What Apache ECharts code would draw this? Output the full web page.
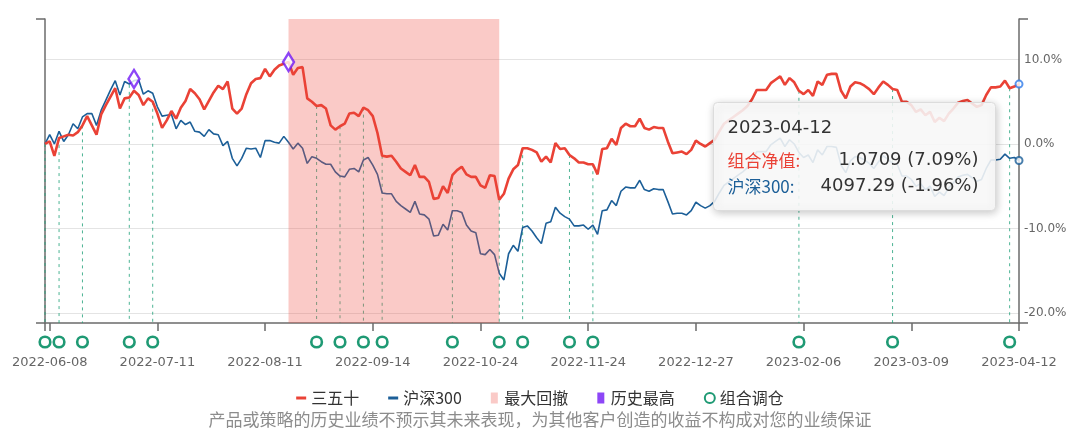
<!DOCTYPE html>
<html><head><meta charset="utf-8">
<script src="https://cdn.jsdelivr.net/npm/echarts@6/dist/echarts.min.js"></script>
<style>html,body{margin:0;padding:0;background:#fff}#c{width:1080px;height:441px}</style>
</head><body><div id="c"></div>
<script>
// Trading days (month, day list)
const tradingDays = [
  ['2022-06', [7,8,9,10,13,14,15,16,17,20,21,22,23,24,27,28,29,30]],
  ['2022-07', [1,4,5,6,7,8,11,12,13,14,15,18,19,20,21,22,25,26,27,28,29]],
  ['2022-08', [1,2,3,4,5,8,9,10,11,12,15,16,17,18,19,22,23,24,25,26,29,30,31]],
  ['2022-09', [1,2,5,6,7,8,9,13,14,15,16,19,20,21,22,23,26,27,28,29,30]],
  ['2022-10', [10,11,12,13,14,17,18,19,20,21,24,25,26,27,28,31]],
  ['2022-11', [1,2,3,4,7,8,9,10,11,14,15,16,17,18,21,22,23,24,25,28,29,30]],
  ['2022-12', [1,2,5,6,7,8,9,12,13,14,15,16,19,20,21,22,23,26,27,28,29,30]],
  ['2023-01', [3,4,5,6,9,10,11,12,13,16,17,18,19,20,30,31]],
  ['2023-02', [1,2,3,6,7,8,9,10,13,14,15,16,17,20,21,22,23,24,27,28]],
  ['2023-03', [1,2,3,6,7,8,9,10,13,14,15,16,17,20,21,22,23,24,27,28,29,30,31]],
  ['2023-04', [3,4,6,7,10,11,12]]
];
const categories = [];
tradingDays.forEach(([m, days]) => days.forEach(d => categories.push(m + '-' + String(d).padStart(2, '0'))));

// 三五十 cumulative return (%)
const portfolio = [
  0.0,0.3,-1.4,0.7,0.9,1.1,1.0,1.4,2.2,3.3,
  2.2,1.1,3.5,4.6,5.6,6.6,4.2,5.4,5.5,6.3,
  5.8,4.6,5.4,5.0,3.6,1.9,2.8,3.9,3.0,4.3,
  5.1,6.5,6.0,5.3,4.1,5.1,6.1,6.9,6.5,7.4,
  4.2,3.6,4.2,5.9,7.2,7.7,7.8,8.9,8.0,8.8,
  9.3,9.5,9.7,8.2,9.0,9.1,5.4,5.0,4.5,4.6,
  4.2,2.2,1.7,2.1,2.4,3.6,3.7,3.3,4.3,4.0,
  3.3,1.3,-1.4,-1.5,-1.4,-2.1,-2.9,-3.3,-3.7,-2.5,
  -3.9,-3.9,-4.5,-6.5,-6.4,-5.0,-5.8,-3.7,-3.1,-2.7,
  -3.6,-3.9,-3.9,-4.9,-5.2,-3.7,-3.8,-6.6,-5.9,-4.1,
  -3.0,-2.5,-0.5,-0.5,-0.7,-1.0,-2.1,-1.5,-2.2,0.1,
  -0.6,-0.5,-1.3,-1.7,-2.2,-2.2,-2.4,-2.4,-3.6,-0.6,
  -0.5,0.6,-0.1,1.9,2.4,2.1,2.1,3.0,1.9,1.7,
  2.0,1.9,1.9,0.3,-1.1,-1.0,-0.9,-1.2,-0.7,0.4,
  0.0,-0.3,0.1,0.5,1.5,2.4,2.8,3.2,3.6,4.0,
  4.5,5.3,6.4,6.4,6.4,7.2,7.6,8.0,7.0,7.8,
  7.3,6.3,5.9,6.4,5.7,7.4,7.0,8.2,8.3,8.3,
  6.3,5.4,6.8,7.3,7.2,6.9,6.5,5.9,6.7,7.4,
  7.0,6.5,6.4,5.0,5.0,4.6,3.8,4.1,3.4,3.8,
  2.6,3.1,2.7,3.6,4.2,4.9,5.1,5.2,4.8,4.4,
  4.6,5.8,6.7,6.7,6.8,7.5,6.6,6.8,7.09
];
// 沪深300 cumulative return (%)
const benchmark = [
  0.0,1.1,0.0,1.5,0.3,1.1,2.4,1.8,3.2,3.6,
  3.6,2.2,4.0,5.2,6.4,7.5,5.8,7.4,7.1,7.5,
  7.6,5.9,6.3,6.0,4.4,3.3,3.4,3.5,1.8,2.8,
  2.3,2.6,1.5,1.4,0.9,1.7,1.2,1.1,-0.2,0.3,
  -1.7,-2.6,-1.7,-0.5,-0.6,-0.5,-1.6,0.4,0.4,0.2,
  0.1,0.9,0.2,-0.6,0.1,-0.5,-2.3,-1.5,-1.7,-2.1,
  -2.4,-2.4,-3.3,-3.8,-3.9,-3.0,-2.9,-3.3,-1.9,-1.6,
  -2.5,-3.6,-5.8,-5.9,-5.9,-6.8,-7.3,-7.7,-8.1,-6.8,
  -8.3,-8.4,-8.9,-10.9,-10.8,-9.5,-10.2,-7.9,-7.9,-8.1,
  -9.6,-10.3,-10.5,-13.0,-13.1,-12.5,-13.1,-15.3,-16.1,-13.0,
  -12.0,-12.7,-9.9,-9.7,-10.3,-11.1,-11.8,-9.4,-9.2,-7.5,
  -8.2,-8.6,-8.9,-9.7,-9.7,-9.6,-10.1,-9.6,-10.7,-7.9,
  -7.8,-6.7,-7.3,-5.6,-5.1,-5.2,-5.2,-4.3,-5.4,-5.6,
  -5.3,-5.4,-5.4,-6.8,-8.3,-8.2,-8.2,-8.4,-7.9,-6.9,
  -7.3,-7.6,-7.3,-6.8,-5.8,-4.9,-4.5,-4.1,-3.7,-3.3,
  -2.8,-2.0,-0.9,-0.9,-0.9,-0.1,0.3,0.7,-0.3,0.5,
  0.0,-1.0,-1.6,-1.3,-2.2,-0.7,-1.3,-0.3,-0.3,-0.4,
  -2.5,-3.4,-2.0,-1.5,-1.6,-1.9,-2.3,-2.9,-2.1,-1.4,
  -1.8,-2.3,-2.4,-3.8,-3.8,-4.2,-5.0,-4.7,-5.4,-5.0,
  -6.2,-5.7,-6.1,-5.2,-4.6,-3.9,-3.7,-3.6,-4.0,-4.4,
  -4.2,-2.9,-1.9,-1.9,-1.8,-1.2,-1.7,-1.6,-1.96
];
// 组合调仓 (rebalance) day indices and the height their guide line reaches (%)
const rebalanceIdx = [0,3,8,18,23,58,63,68,72,87,97,102,112,117,161,181,206];
const rebalanceTop = [0.0,0.7,2.2,7.0,5.0,4.5,2.1,4.3,-1.4,-3.7,-6.6,-0.5,-1.3,-2.4,6.3,6.5,6.6];
// 历史最高 markers
const highIdx = [19, 52];
const highVal = [7.7, 9.7];
// 最大回撤 range (start index, end index)
const drawdownRange = [52, 97];
// y axis range
const yMin = -21.2, yMax = 14.8;
// tooltip content
const tipIndex = 208;
const tipNav = '1.0709';
const tipBench = '4097.29';

const RED = '#ea4236', BLUE = '#1c5f98', GREEN = '#1f9a74', PURPLE = '#7018f5';
const PINK = 'rgba(240,80,70,0.3)';
const FONT = 'DejaVu Sans, Noto Sans CJK SC, sans-serif';
const CJK = 'Noto Sans CJK SC, DejaVu Sans, sans-serif';
const rectIcon = 'path://M0,0h7v11h-7z';
const lineIcon = 'path://M0,0h10v3h-10z';

const chart = echarts.init(document.getElementById('c'));
const edgeAxis = (pos) => ({
  type: 'value', position: pos, min: yMin, max: yMax, interval: yMax - yMin,
  axisLine: { show: true, onZero: false, lineStyle: { color: '#6b6b6b', width: 1.5 } },
  axisTick: { show: true, length: 9, lineStyle: { color: '#6b6b6b', width: 1.5 } },
  axisLabel: { show: false }, splitLine: { show: false }
});

const tipX = 713, tipY = 102, tipW = 282, tipH = 108;
chart.setOption({
  animation: false,
  backgroundColor: '#fff',
  grid: { left: 45, right: 61, top: 19, bottom: 118 },
  legend: {
    left: 'center', top: 385, itemWidth: 10, itemHeight: 11, itemGap: 29,
    textStyle: { fontFamily: CJK, fontSize: 16, color: '#333' },
    data: [
      { name: '三五十', icon: lineIcon, itemStyle: { color: RED } },
      { name: '沪深300', icon: lineIcon, itemStyle: { color: BLUE } },
      { name: '最大回撤', icon: rectIcon, itemStyle: { color: PINK } },
      { name: '历史最高', icon: rectIcon, itemStyle: { color: PURPLE, borderWidth: 0 } },
      { name: '组合调仓', icon: 'circle', itemStyle: { color: '#fff', borderColor: GREEN, borderWidth: 2 } }
    ]
  },
  xAxis: {
    type: 'category', data: categories, boundaryGap: false,
    axisLine: { onZero: false, lineStyle: { color: '#6b6b6b', width: 1.5 } },
    axisTick: { length: 8, lineStyle: { color: '#6b6b6b', width: 1.5 },
      interval: (i) => i === 0 || (i - 1) % 23 === 0 },
    axisLabel: { interval: (i) => i >= 1 && (i - 1) % 23 === 0, margin: 33,
      color: '#666', fontFamily: FONT, fontSize: 13 },
    splitLine: { show: false }
  },
  yAxis: [
    edgeAxis('left'),
    edgeAxis('right'),
    {
      type: 'value', position: 'right', min: yMin, max: yMax,
      axisLine: { show: false }, axisTick: { show: false },
      axisLabel: { margin: 5, color: '#666', fontFamily: FONT, fontSize: 12,
        showMinLabel: false, showMaxLabel: false, formatter: v => v.toFixed(1) + '%' },
      splitLine: { show: true, showMinLine: false, showMaxLine: false,
        lineStyle: { color: '#e4e4e4', width: 1 } }
    }
  ],
  series: [
    {
      name: '组合调仓', type: 'custom', z: 1, clip: false,
      itemStyle: { color: '#fff', borderColor: GREEN, borderWidth: 2 },
      data: rebalanceIdx.map((i, k) => [i, rebalanceTop[k]]),
      renderItem: (params, api) => {
        const top = api.coord([api.value(0), api.value(1)]);
        const bot = api.coord([api.value(0), yMin]);
        return { type: 'group', children: [
          { type: 'line', shape: { x1: top[0], y1: top[1], x2: bot[0], y2: bot[1] },
            style: { stroke: 'rgba(31,160,120,0.8)', lineWidth: 1, lineDash: [3, 4] } },
          { type: 'circle', shape: { cx: bot[0], cy: bot[1] + 19, r: 5.3 },
            style: { fill: '#fff', stroke: GREEN, lineWidth: 2.6 } }
        ] };
      }
    },
    {
      name: '沪深300', type: 'line', data: benchmark, z: 2, symbol: 'none',
      lineStyle: { color: BLUE, width: 1.6 }, itemStyle: { color: BLUE }
    },
    {
      name: '最大回撤', type: 'custom', z: 3,
      itemStyle: { color: PINK },
      data: [drawdownRange],
      renderItem: (params, api) => {
        const a = api.coord([api.value(0), yMax]);
        const b = api.coord([api.value(1), yMin]);
        return { type: 'rect', shape: { x: a[0], y: a[1], width: b[0] - a[0], height: b[1] - a[1] },
          style: { fill: PINK } };
      }
    },
    {
      name: '三五十', type: 'line', data: portfolio, z: 5, symbol: 'none',
      lineStyle: { color: RED, width: 2.6 }, itemStyle: { color: RED }
    },
    {
      name: '历史最高', type: 'scatter', z: 6, symbol: 'diamond', symbolSize: [11, 18],
      itemStyle: { color: '#fff', borderColor: PURPLE, borderWidth: 2.5 },
      data: highIdx.map((i, k) => [i, highVal[k]])
    },
    {
      name: 'hover', type: 'scatter', z: 7, symbol: 'circle', symbolSize: 7,
      data: [
        { value: [tipIndex, portfolio[tipIndex]], itemStyle: { color: '#fff', borderColor: '#2f7bea', borderWidth: 2 } },
        { value: [tipIndex, benchmark[tipIndex]], itemStyle: { color: '#fff', borderColor: BLUE, borderWidth: 2 } }
      ]
    }
  ],
  graphic: [
    {
      type: 'group', left: tipX, top: tipY, zlevel: 5, z: 100,
      children: [
        { type: 'rect', zlevel: 5, z: 100, shape: { x: 0, y: 0, width: tipW, height: tipH, r: 4 },
          style: { fill: 'rgba(255,255,255,0.86)', stroke: '#dcdcdc', lineWidth: 1,
            shadowBlur: 8, shadowOffsetX: 1, shadowOffsetY: 2, shadowColor: 'rgba(0,0,0,0.25)' } },
        { type: 'text', zlevel: 5, z: 101, x: 14, y: 26, style: { text: categories[tipIndex], font: '18px ' + FONT,
          fill: '#333', verticalAlign: 'middle' } },
        { type: 'text', zlevel: 5, z: 101, x: 14, y: 58, style: { text: '组合净值:', font: '17px ' + CJK,
          fill: RED, verticalAlign: 'middle' } },
        { type: 'text', zlevel: 5, z: 101, x: 265, y: 58, style: { text: tipNav + ' (' + portfolio[tipIndex].toFixed(2) + '%)',
          font: '18px ' + FONT, fill: '#333', align: 'right', verticalAlign: 'middle' } },
        { type: 'text', zlevel: 5, z: 101, x: 14, y: 84, style: { text: '沪深300:', font: '17px ' + CJK,
          fill: BLUE, verticalAlign: 'middle' } },
        { type: 'text', zlevel: 5, z: 101, x: 265, y: 84, style: { text: tipBench + ' (' + benchmark[tipIndex].toFixed(2) + '%)',
          font: '18px ' + FONT, fill: '#333', align: 'right', verticalAlign: 'middle' } }
      ]
    },
    {
      type: 'text', left: 'center', top: 411, z: 10,
      style: { text: '产品或策略的历史业绩不预示其未来表现，为其他客户创造的收益不构成对您的业绩保证',
        font: '17px ' + CJK, fill: '#8c8c8c' }
    }
  ]
});
</script></body></html>
